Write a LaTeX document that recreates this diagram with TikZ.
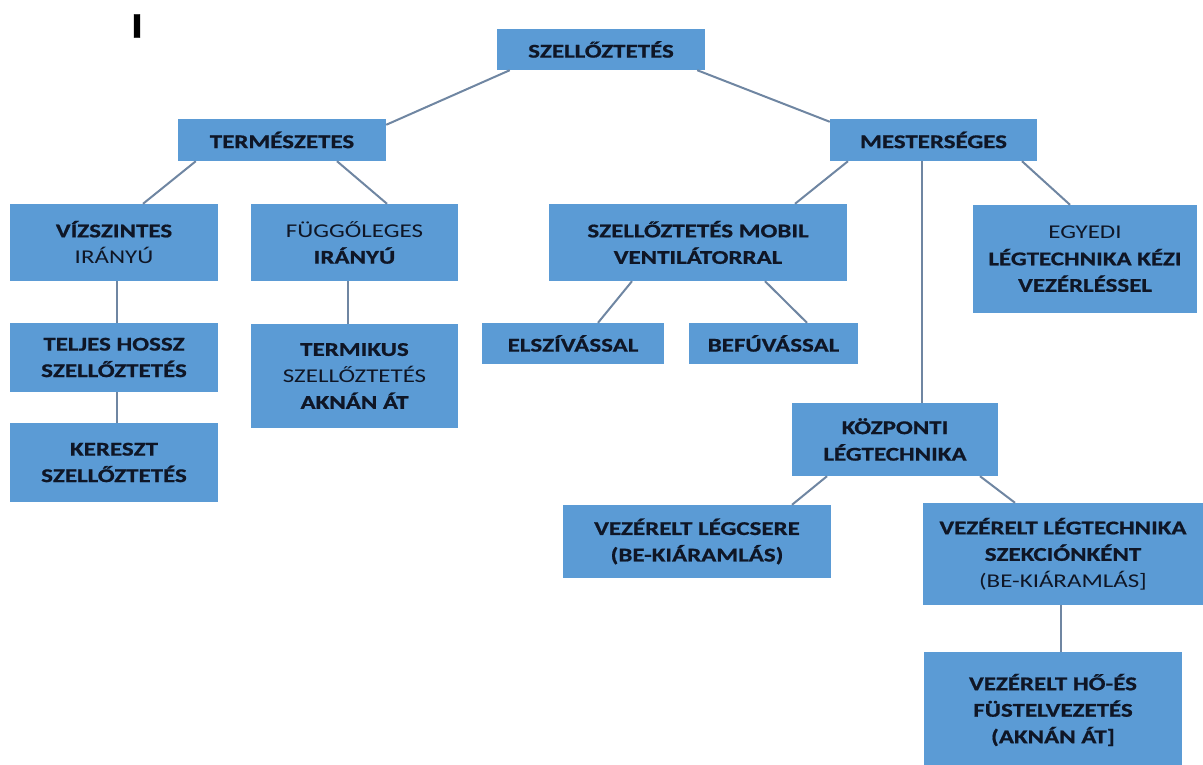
\documentclass[tikz,border=0pt]{standalone}
\usepackage{fontspec}
\setmainfont{Carlito}[FakeStretch=1.28, BoldFeatures={FakeBold=0.8}]
\definecolor{vntblue}{HTML}{5B9BD5}
\definecolor{vntline}{HTML}{6F86A2}
\definecolor{vntink}{HTML}{0F1626}
\newcommand\lite[1]{{\mdseries #1}}

\begin{document}
\begin{tikzpicture}[x=1pt, y=-1pt,
        box/.style={fill=vntblue, text=vntink, align=center, inner sep=0pt,
          font=\fontsize{19.5}{26.5}\selectfont\bfseries},
        link/.style={draw=vntline, line width=2pt}]
      \useasboundingbox (0,0) rectangle (1203,765);

      \node[font=\fontsize{36}{36}\selectfont\bfseries] (mark) at (137,26) {I};

      % top levels
      \node[box, minimum width=208, minimum height=41] (root) at (601,49.5) {SZELLŐZTETÉS};
      \node[box, minimum width=208, minimum height=42] (term) at (282,140) {TERMÉSZETES};
      \node[box, minimum width=207, minimum height=42] (mest) at (933.5,140) {MESTERSÉGES};

      % natural branch
      \node[box, minimum width=208, minimum height=77] (vizsz) at (114,242.5) {VÍZSZINTES\\\lite{IRÁNYÚ}};
      \node[box, minimum width=207, minimum height=77] (fugg) at (354.5,242.5) {\lite{FÜGGŐLEGES}\\IRÁNYÚ};
      \node[box, minimum width=208, minimum height=69] (teljes) at (114,357.5) {TELJES HOSSZ\\SZELLŐZTETÉS};
      \node[box, minimum width=208, minimum height=79] (kereszt) at (114,462.5) {KERESZT\\SZELLŐZTETÉS};
      \node[box, minimum width=207, minimum height=104] (termik) at (354.5,376) {TERMIKUS\\\lite{SZELLŐZTETÉS}\\AKNÁN ÁT};

      % artificial branch
      \node[box, minimum width=298, minimum height=77] (mobil) at (698,242.5) {SZELLŐZTETÉS MOBIL\\VENTILÁTORRAL};
      \node[box, minimum width=182, minimum height=41] (elsz) at (573,343.5) {ELSZÍVÁSSAL};
      \node[box, minimum width=169, minimum height=41] (befu) at (773.5,343.5) {BEFÚVÁSSAL};
      \node[box, minimum width=224, minimum height=108] (egyedi) at (1085,259) {\lite{EGYEDI}\\LÉGTECHNIKA KÉZI\\VEZÉRLÉSSEL};
      \node[box, minimum width=206, minimum height=73] (kozp) at (895,439.5) {KÖZPONTI\\LÉGTECHNIKA};
      \node[box, minimum width=268, minimum height=73] (legcs) at (697,541.5) {VEZÉRELT LÉGCSERE\\(BE-KIÁRAMLÁS)};
      \node[box, minimum width=280, minimum height=102] (szekc) at (1063,554) {VEZÉRELT LÉGTECHNIKA\\SZEKCIÓNKÉNT\\\lite{(BE-KIÁRAMLÁS]}};
      \node[box, minimum width=258, minimum height=116] (hoes) at (1053,710) {VEZÉRELT HŐ-ÉS\\FÜSTELVEZETÉS\\(AKNÁN ÁT]};

      % connectors
      \draw[link] ([xshift=13]root.south west) -- ([yshift=-6]term.north east);
      \draw[link] ([xshift=-8]root.south east) -- ([yshift=-3]mest.north west);
      \draw[link] ([xshift=18]term.south west) -- ([xshift=29]vizsz.north);
      \draw[link] ([xshift=55]term.south) -- ([xshift=32.5]fugg.north);
      \draw[link] ([xshift=3]vizsz.south) -- ([xshift=3]teljes.north);
      \draw[link] ([xshift=3]teljes.south) -- ([xshift=3]kereszt.north);
      \draw[link] ([xshift=-6.5]fugg.south) -- ([xshift=-6.5]termik.north);
      \draw[link] ([xshift=-85.5]mest.south) -- ([xshift=97]mobil.north);
      \draw[link] ([xshift=-11.5]mest.south) -- ([xshift=27]kozp.north);
      \draw[link] ([xshift=88.5]mest.south) -- ([xshift=-15]egyedi.north);
      \draw[link] ([xshift=-66]mobil.south) -- ([xshift=25]elsz.north);
      \draw[link] ([xshift=67]mobil.south) -- ([xshift=33.5]befu.north);
      \draw[link] ([xshift=-68]kozp.south) -- ([xshift=95]legcs.north);
      \draw[link] ([xshift=85]kozp.south) -- ([xshift=-48]szekc.north);
      \draw[link] ([xshift=-2]szekc.south) -- ([xshift=8]hoes.north);
    \end{tikzpicture}
\end{document}
